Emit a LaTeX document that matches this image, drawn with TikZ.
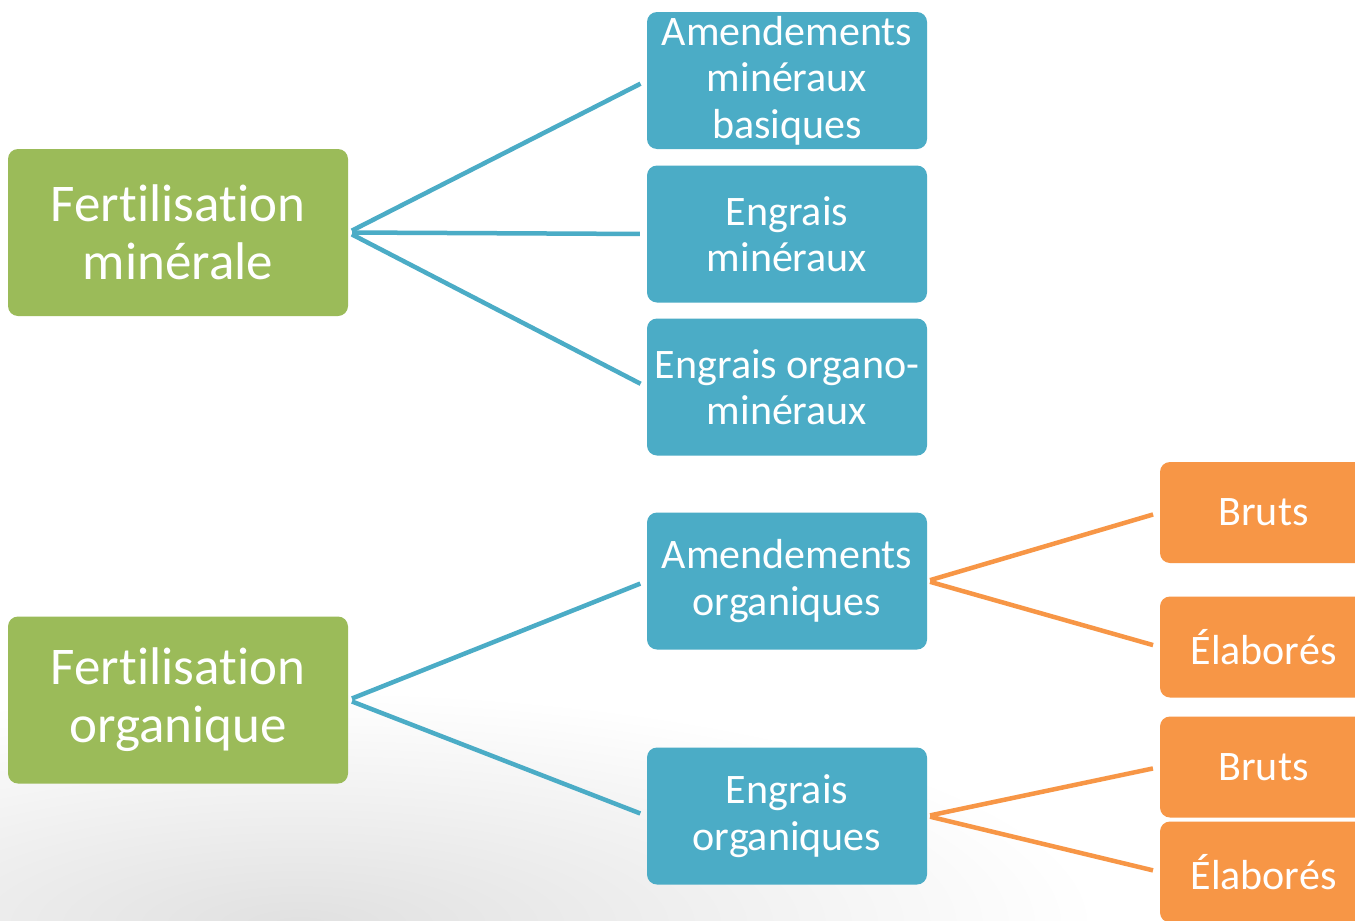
\documentclass[tikz,border=0pt]{standalone}
\usepackage{fontspec}
\setmainfont[Ligatures={NoCommon,NoRare,NoContextual}]{Carlito}
\definecolor{cgreen}{HTML}{9BBB59}
\definecolor{cblue}{HTML}{4BACC6}
\definecolor{corange}{HTML}{F79646}
\begin{document}
\begin{tikzpicture}[x=1pt,y=-1pt,
  box/.style={rounded corners=10pt, text=white, align=center, inner sep=0pt},
  gbox/.style={box, fill=cgreen, minimum width=340pt, minimum height=167pt, font=\fontsize{53}{58}\selectfont},
  bbox/.style={box, fill=cblue, minimum width=280pt, minimum height=137pt, font=\fontsize{42}{46.5}\selectfont},
  obox/.style={box, fill=corange, minimum width=207pt, minimum height=101pt, font=\fontsize{42}{46.5}\selectfont},
  bline/.style={draw=cblue, line width=4.5pt, shorten <=4pt, shorten >=7pt},
  oline/.style={draw=corange, line width=4.5pt, shorten <=3pt, shorten >=7pt}]
\clip (0,0) rectangle (1355,921);
\fill[white] (0,0) rectangle (1355,921);
\shade[inner color=black!12, outer color=white] (-500,690) rectangle (1100,1160);

\node[gbox] (fm) at (178,232.5) {Fertilisation\\minérale};
\node[gbox] (fo) at (178,700) {Fertilisation\\organique};

\node[bbox] (b1) at (787,80.5) {Amendements\\minéraux\\basiques};
\node[bbox] (b2) at (787,234) {Engrais\\minéraux};
\node[bbox] (b3) at (787,387) {Engrais organo-\\minéraux};
\node[bbox] (b4) at (787,581) {Amendements\\organiques};
\node[bbox] (b5) at (787,816) {Engrais\\organiques};

\node[obox] (o1) at (1263.5,512.5) {Bruts};
\node[obox] (o2) at (1263.5,647) {Élaborés};
\node[obox] (o3) at (1263.5,767) {Bruts};
\node[obox] (o4) at (1263.5,872) {Élaborés};

\draw[bline] (fm.east) -- (b1.west);
\draw[bline] (fm.east) -- (b2.west);
\draw[bline] (fm.east) -- (b3.west);
\draw[bline] (fo.east) -- (b4.west);
\draw[bline] (fo.east) -- (b5.west);

\draw[oline] (b4.east) -- (o1.west);
\draw[oline] (b4.east) -- (o2.west);
\draw[oline] (b5.east) -- (o3.west);
\draw[oline] (b5.east) -- (o4.west);
\end{tikzpicture}
\end{document}
